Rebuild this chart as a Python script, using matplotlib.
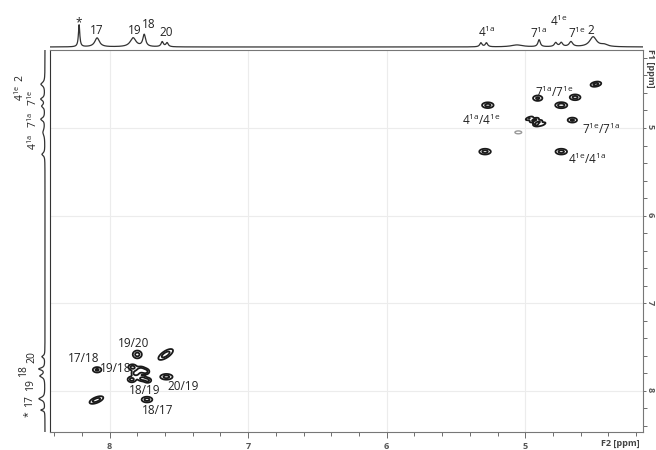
import matplotlib
matplotlib.use('Agg')
import matplotlib.pyplot as plt
import numpy as np
from matplotlib.ticker import MultipleLocator

plt.rcParams['font.family'] = ['Open Sans', 'DejaVu Sans']
plt.rcParams['mathtext.default'] = 'regular'

# ---- cross peaks: F2 ppm, F1 ppm, amplitude, width F2, width F1, tilt
peak_f2 = [8.095, 8.09, 7.73, 7.80, 7.595, 7.59,
           7.835, 7.81, 7.84, 7.775, 7.74, 7.765, 7.725,
           4.49, 4.91, 4.64, 4.74, 5.27, 5.29, 4.74, 4.66,
           4.97, 4.935, 4.905, 4.875, 4.92]
peak_f1 = [8.105, 7.76, 8.10, 7.585, 7.585, 7.84,
           7.73, 7.80, 7.87, 7.76, 7.78, 7.86, 7.88,
           4.50, 4.66, 4.65, 4.74, 4.74, 5.27, 5.27, 4.91,
           4.89, 4.91, 4.935, 4.955, 4.965]
peak_amp = [1.0, 0.8, 0.9, 0.9, 1.0, 0.9,
            0.9, 1.0, 0.9, 1.0, 0.9, 0.9, 0.8,
            0.9, 0.8, 0.9, 1.0, 0.9, 0.9, 0.9, 0.8,
            0.7, 0.9, 0.8, 0.6, 0.6]
peak_w2 = [0.032, 0.022, 0.026, 0.022, 0.034, 0.03,
           0.02, 0.02, 0.02, 0.02, 0.018, 0.02, 0.018,
           0.026, 0.024, 0.026, 0.028, 0.028, 0.028, 0.028, 0.024,
           0.02, 0.022, 0.02, 0.018, 0.016]
peak_w1 = [0.028, 0.022, 0.022, 0.03, 0.04, 0.022,
           0.022, 0.024, 0.022, 0.024, 0.022, 0.02, 0.02,
           0.02, 0.022, 0.022, 0.022, 0.022, 0.022, 0.022, 0.02,
           0.016, 0.018, 0.018, 0.016, 0.014]
peak_tilt = [0.6, 0.0, 0.0, 0.0, 0.7, 0.0,
             0.0, 0.0, 0.0, 0.0, 0.0, 0.0, 0.0,
             0.3, 0.0, 0.0, 0.0, 0.0, 0.0, 0.0, 0.0,
             0.6, 0.6, 0.6, 0.6, 0.0]

# weak peak (drawn grey)
weak_f2 = [5.05]
weak_f1 = [5.05]

# ---- cross peak labels
cross_labels = ['17/18', '19/20', '19/18', '18/19', '20/19', '18/17',
                '7$^{1a}$/7$^{1e}$', '4$^{1a}$/4$^{1e}$',
                '7$^{1e}$/7$^{1a}$', '4$^{1e}$/4$^{1a}$']
cross_lab_f2 = [8.19, 7.83, 7.955, 7.75, 7.47, 7.65, 4.79, 5.32, 4.45, 4.55]
cross_lab_f1 = [7.63, 7.46, 7.75, 8.00, 7.95, 8.22, 4.59, 4.91, 5.02, 5.36]

# ---- 1D projection (top, F2)
top_ppm = [8.22, 8.09, 7.83, 7.75, 7.62, 7.585, 5.32, 5.28, 5.06, 4.90, 4.78, 4.74, 4.67, 4.51, 4.43]
top_height = [22, 9, 9, 12, 5, 4, 4, 4, 2, 7, 4, 4, 5, 10, 2]
top_width = [0.006, 0.02, 0.025, 0.012, 0.01, 0.01, 0.01, 0.01, 0.05, 0.01, 0.012, 0.012, 0.015, 0.03, 0.03]
top_labels = ['*', '17', '19', '18', '20', '4$^{1a}$', '7$^{1a}$', '4$^{1e}$', '7$^{1e}$', '2']
top_lab_ppm = [8.22, 8.09, 7.82, 7.72, 7.59, 5.28, 4.90, 4.76, 4.63, 4.53]
top_lab_h = [24, 17, 16, 23, 15, 15, 14, 26, 14, 17]

# ---- 1D projection (left, F1)
left_ppm = [8.22, 8.09, 7.83, 7.75, 7.61, 5.30, 5.05, 4.90, 4.75, 4.67, 4.50]
left_height = [4, 6, 5, 6, 3, 3, 2, 4, 3, 4, 4]
left_width = [0.01, 0.02, 0.02, 0.015, 0.015, 0.02, 0.04, 0.02, 0.02, 0.02, 0.025]
left_labels = ['*', '17', '19', '18', '20', '4$^{1a}$', '7$^{1a}$', '7$^{1e}$', '4$^{1e}$', '2']
left_lab_ppm = [8.27, 8.12, 7.93, 7.78, 7.61, 5.16, 4.91, 4.66, 4.60, 4.43]
left_lab_x = [17, 15, 14, 21, 13, 12, 12, 12, 25, 25]

xlim = (8.43, 4.15)
ylim = (8.47, 4.11)

fig = plt.figure(figsize=(6.56, 4.5), dpi=100)
W, H = 656.0, 450.0
L, R, T, B = 50, 643, 50, 432
ax = fig.add_axes([L / W, 1 - B / H, (R - L) / W, (B - T) / H])
axt = fig.add_axes([L / W, 1 - T / H, (R - L) / W, T / H], sharex=ax)
axl = fig.add_axes([0, 1 - B / H, L / W, (B - T) / H], sharey=ax)

# 2D contour map
gx = np.arange(4.0, 8.6, 0.004)
gy = np.arange(4.0, 8.6, 0.004)
X, Y = np.meshgrid(gx, gy)
Z = np.zeros_like(X)
for f2, f1, a, s2, s1, r in zip(peak_f2, peak_f1, peak_amp, peak_w2, peak_w1, peak_tilt):
    dx = (X - f2) / s2
    dy = (Y - f1) / s1
    Z += a * np.exp(-(dx ** 2 - 2 * r * dx * dy + dy ** 2) / (2 * (1 - r ** 2)))
ax.contour(X, Y, Z, levels=[0.3, 0.7], colors='#1a1a1a', linewidths=1.3)

Zw = np.zeros_like(X)
for f2, f1 in zip(weak_f2, weak_f1):
    Zw += np.exp(-(((X - f2) / 0.018) ** 2 + ((Y - f1) / 0.012) ** 2) / 2)
ax.contour(X, Y, Zw, levels=[0.4], colors='#999999', linewidths=1.0)

for t, x, y in zip(cross_labels, cross_lab_f2, cross_lab_f1):
    ax.text(x, y, t, fontsize=8.5, color='#222222', ha='center', va='center')

ax.set_xlim(*xlim)
ax.set_ylim(*ylim)
ax.xaxis.set_major_locator(MultipleLocator(1))
ax.xaxis.set_minor_locator(MultipleLocator(0.2))
ax.yaxis.set_major_locator(MultipleLocator(1))
ax.yaxis.set_minor_locator(MultipleLocator(0.2))
ax.yaxis.tick_right()
ax.grid(True, which='major', color='#ececec', lw=0.8)
ax.tick_params(which='both', direction='out', colors='#555555', labelsize=6.5,
               width=0.6)
ax.tick_params(which='major', length=4)
ax.tick_params(which='minor', length=3)
ax.tick_params(axis='y', labelrotation=-90, pad=0, labelsize=6.5)
ax.tick_params(axis='y', which='major', length=2)
for lab in ax.get_xticklabels() + ax.get_yticklabels():
    lab.set_fontweight('bold')
for s in ax.spines.values():
    s.set_color('#777777')
    s.set_linewidth(0.8)
ax.spines['left'].set_color('#333333')
fig.text(620 / W, 1 - 444 / H, 'F2 [ppm]', fontsize=6.5, fontweight='bold',
         color='#444444', ha='center', va='center')
fig.text(650 / W, 1 - 68 / H, 'F1 [ppm]', fontsize=6.5, fontweight='bold',
         color='#444444', ha='center', va='center', rotation=-90)

# top projection
tx = np.linspace(8.43, 4.15, 2000)
ty = np.zeros_like(tx)
for p, h, w in zip(top_ppm, top_height, top_width):
    ty += h / (1 + ((tx - p) / w) ** 2)
axt.plot(tx, ty, color='#333333', lw=0.9)
for t, p, h in zip(top_labels, top_lab_ppm, top_lab_h):
    axt.text(p, h, t, fontsize=8.5, color='#222222', ha='center', va='center')
axt.set_ylim(-3, 47)
axt.axis('off')

# left projection
ly = np.linspace(4.11, 8.47, 2000)
lx = np.zeros_like(ly)
for p, h, w in zip(left_ppm, left_height, left_width):
    lx += h / (1 + ((ly - p) / w) ** 2)
axl.plot(lx, ly, color='#333333', lw=0.9)
for t, p, x in zip(left_labels, left_lab_ppm, left_lab_x):
    axl.text(x, p, t, fontsize=7.5, color='#222222', ha='center', va='center',
             rotation=90)
axl.set_xlim(45, -5)
axl.axis('off')

fig.savefig('out.png', dpi=100)
